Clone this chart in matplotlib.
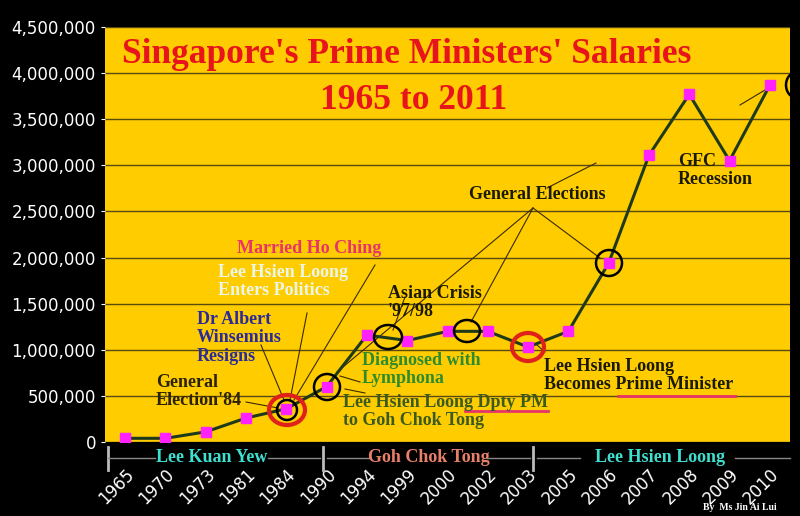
import matplotlib
matplotlib.use("Agg")
import matplotlib.pyplot as plt
from matplotlib.ticker import FuncFormatter

years = ["1965","1970","1973","1981","1984","1990","1994","1999","2000","2002",
         "2003","2005","2006","2007","2008","2009","2010"]
salaries = [40000, 40000, 110000, 260000, 360000, 600000, 1160000, 1100000, 1200000,
            1200000, 1030000, 1200000, 1940000, 3110000, 3770000, 3050000, 3870000]

W, H = 800, 516
fig = plt.figure(figsize=(8, 5.16), dpi=100, facecolor="black")
L, R, T, B = 105, 790, 27, 442
ax = fig.add_axes([L / W, 1 - B / H, (R - L) / W, (B - T) / H])
ax.set_facecolor("#FFCC00")
x = list(range(len(years)))
ax.plot(x, salaries, color="#1F3A1A", lw=2.2, zorder=3)
ax.plot(x, salaries, ls="none", marker="s", ms=7, color="#FF22FF", zorder=4)
ax.set_xlim(-0.5, len(years) - 0.5)
ax.set_ylim(0, 4500000)
ax.set_yticks(range(0, 4500001, 500000))
ax.yaxis.set_major_formatter(FuncFormatter(lambda v, p: f"{int(v):,}"))
ax.grid(axis="y", color="#5A4A10", lw=1)
ax.set_axisbelow(True)
ax.set_xticks(x)
ax.set_xticklabels(years, rotation=45, ha="right", rotation_mode="anchor")
ax.tick_params(colors="white", labelsize=12, length=3)
ax.tick_params(axis="x", pad=17, length=0)
for s in ax.spines.values():
    s.set_visible(False)

def P(px, py):
    return ((px - L) / (R - L), (B - py) / (B - T))

def txt(px, py, s, color, size=13, **kw):
    ax.text(*P(px, py), s, transform=ax.transAxes, color=color, fontsize=size,
            family="Liberation Serif", weight="bold", va="top", ha="left",
            linespacing=1.1, clip_on=False, **kw)

def line(p1, p2, color="#3A2A00", lw=0.8):
    a, b = P(*p1), P(*p2)
    ax.plot([a[0], b[0]], [a[1], b[1]], transform=ax.transAxes, color=color, lw=lw,
            clip_on=False, zorder=2)

def circ(px, py, w, h, color="black", lw=1.8):
    from matplotlib.patches import Ellipse
    e = Ellipse(P(px, py), w / (R - L), h / (B - T), transform=ax.transAxes,
                fill=False, ec=color, lw=lw, zorder=5, clip_on=False)
    ax.add_patch(e)

txt(122, 38, "Singapore's Prime Ministers' Salaries", "#E8141B", 25.5)
txt(320, 84, "1965 to 2011", "#E8141B", 25.5)

txt(237, 240, "Married Ho Ching", "#E8336B")
txt(218, 264, "Lee Hsien Loong\nEnters Politics", "#EAF6E8")
txt(197, 311, "Dr Albert\nWinsemius\nResigns", "#2A2A9A")
txt(156, 374, "General\nElection'84", "#2A2200")
txt(388, 285, "Asian Crisis\n'97/98", "#1A1A00")
txt(362, 352, "Diagnosed with\nLymphona", "#2E8B2E")
txt(343, 394, "Lee Hsien Loong Dpty PM\nto Goh Chok Tong", "#3A5A20")
txt(469, 186, "General Elections", "#1A1A00")
txt(544, 358, "Lee Hsien Loong\nBecomes Prime Minister", "#1A1A00")
txt(678, 153, "GFC\nRecession", "#1A1A00")

line((375, 265), (294, 400))
line((307, 313), (290, 400))
line((261, 345), (284, 400))
line((246, 402), (278, 408))
line((533, 208), (337, 372))
line((533, 208), (471, 322))
line((533, 208), (600, 258))
line((547, 188), (596, 163))
line((360, 382), (340, 376))
line((345, 389), (365, 393))
line((405, 297), (393, 330))
line((740, 105), (765, 90))
line((537, 345), (545, 352))
line((465, 411), (548, 411), color="#E8336B", lw=2)
line((618, 396), (735, 396), color="#E8336B", lw=2)

circ(287, 410, 36, 30, "#E0201A", 3)
circ(287, 410, 20, 20)
circ(327, 387, 26, 26)
circ(388, 337, 28, 24)
circ(467, 331, 26, 22)
circ(528, 347, 32, 28, "#E0201A", 3)
circ(609, 263, 26, 26)
circ(797, 85, 22, 26)

for sx in (108, 323, 533):
    line((sx, 447), (sx, 470), color="#BBBBBB", lw=2)
for a, b in [(108, 155), (268, 320), (327, 370), (487, 530), (537, 580), (735, 790)]:
    line((a, 458), (b, 458), color="#888888", lw=1)
for px, name, col in [(212, "Lee Kuan Yew", "#40E0D0"), (429, "Goh Chok Tong", "#E8806A"),
                      (660, "Lee Hsien Loong", "#40E0D0")]:
    ax.text(*P(px, 458), name, transform=ax.transAxes, color=col, fontsize=13,
            family="Liberation Serif", weight="bold", ha="center", va="center", clip_on=False)
fig.text(740 / W, 1 - 507 / H, "By  Ms Jin Ai Lui", color="white", fontsize=7,
         family="Liberation Serif", weight="bold", ha="center", va="center")

fig.savefig("out.png", dpi=100, facecolor="black")
